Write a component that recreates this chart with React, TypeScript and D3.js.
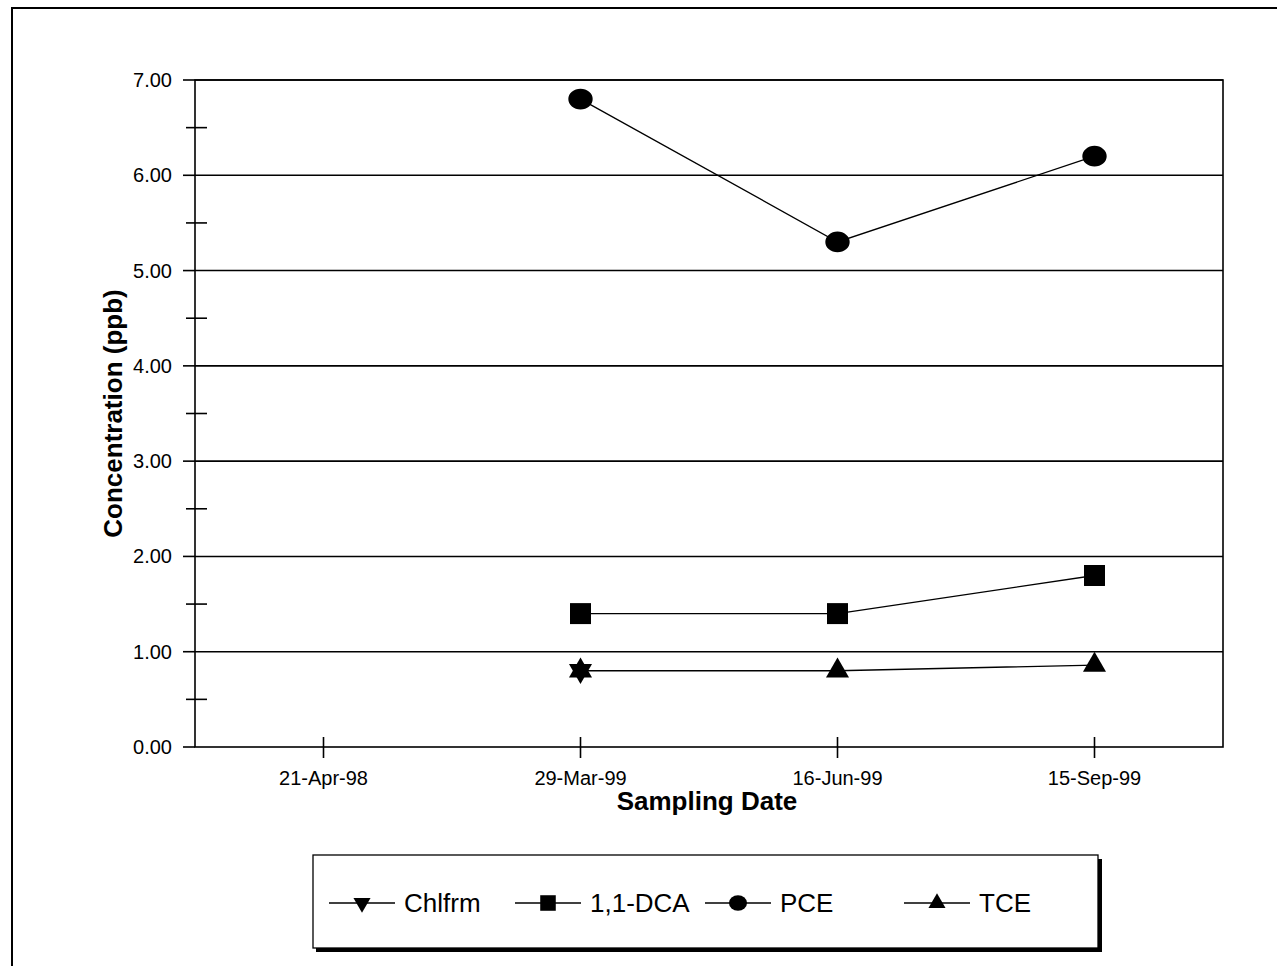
import * as d3 from 'd3'

const width = 1277
const height = 966
const margin = { top: 80, right: 54, bottom: 219, left: 195 }

const dates = ['21-Apr-98', '29-Mar-99', '16-Jun-99', '15-Sep-99']
const chlfrm = [null, 0.8, null, null]
const dca = [null, 1.4, 1.4, 1.8]
const pce = [null, 6.8, 5.3, 6.2]
const tce = [null, 0.8, 0.8, 0.86]
const yTicks = [0, 1, 2, 3, 4, 5, 6, 7]
const yMinorTicks = [0.5, 1.5, 2.5, 3.5, 4.5, 5.5, 6.5]

const seriesNames = ['Chlfrm', '1,1-DCA', 'PCE', 'TCE']
const seriesValues = [chlfrm, dca, pce, tce]
const seriesSymbols = ['triangleDown', 'square', 'circle', 'triangle']

const font = "'Liberation Sans', Arial, Helvetica, sans-serif"

const innerWidth = width - margin.left - margin.right
const innerHeight = height - margin.top - margin.bottom

const xScale = d3.scaleBand().domain(dates).range([0, innerWidth])
const yScale = d3.scaleLinear().domain([0, 7]).range([innerHeight, 0])

const marker = (kind: string, scale: number) => {
  if (kind === 'square') return d3.symbol(d3.symbolSquare, 440 * scale)()
  if (kind === 'circle') return d3.symbol(d3.symbolCircle, 400 * scale)()
  return d3.symbol(d3.symbolTriangle, 230 * scale)()
}

const Marker = ({ kind, x, y, scale = 1 }: { kind: string; x: number; y: number; scale?: number }) => (
  <path
    d={marker(kind, scale) as string}
    transform={`translate(${x},${y})${kind === 'triangleDown' ? ' rotate(180)' : ''}${kind === 'circle' ? ' scale(1.08,0.92)' : ''}`}
    fill="#000"
  />
)

const App = () => {
  const cx = (d: string) => (xScale(d) as number) + xScale.bandwidth() / 2

  const line = d3
    .line<[string, number | null]>()
    .defined((d) => d[1] !== null)
    .x((d) => cx(d[0]))
    .y((d) => yScale(d[1] as number))

  const legendX = [362, 548, 738, 937]
  const legendY = 903

  return (
    <svg
      width={width}
      height={height}
      style={{ position: 'absolute', left: 0, top: 0, background: '#fff' }}
      fontFamily={font}
    >
      {/* outer frame */}
      <path d={`M12,${height} V8 H${width}`} fill="none" stroke="#000" strokeWidth={2} />

      <g transform={`translate(${margin.left},${margin.top})`}>
        {/* gridlines */}
        {yTicks.slice(1).map((t) => (
          <line key={t} x1={0} x2={innerWidth} y1={yScale(t)} y2={yScale(t)} stroke="#000" strokeWidth={1.6} />
        ))}
        {/* plot box */}
        <rect x={0} y={0} width={innerWidth} height={innerHeight} fill="none" stroke="#000" strokeWidth={1.6} />

        {/* y axis */}
        {yTicks.map((t) => (
          <g key={t} transform={`translate(0,${yScale(t)})`}>
            <line x1={-12} x2={0} stroke="#000" strokeWidth={1.6} />
            <text x={-23} dy="0.35em" textAnchor="end" fontSize={20} fill="#000">
              {d3.format('.2f')(t)}
            </text>
          </g>
        ))}
        {yMinorTicks.map((t) => (
          <line key={t} x1={-9} x2={12} y1={yScale(t)} y2={yScale(t)} stroke="#000" strokeWidth={1.6} />
        ))}

        {/* x axis */}
        {dates.map((d) => (
          <g key={d} transform={`translate(${cx(d)},${innerHeight})`}>
            <line y1={-10} y2={11} stroke="#000" strokeWidth={1.6} />
            <text y={38} textAnchor="middle" fontSize={20} fill="#000">
              {d}
            </text>
          </g>
        ))}

        {/* series */}
        {seriesValues.map((vals, i) => {
          const pts = dates.map((d, j) => [d, vals[j]] as [string, number | null])
          return (
            <g key={seriesNames[i]}>
              <path d={line(pts) as string} fill="none" stroke="#000" strokeWidth={1.3} />
              {pts
                .filter((p) => p[1] !== null)
                .map((p) => (
                  <Marker key={p[0]} kind={seriesSymbols[i]} x={cx(p[0])} y={yScale(p[1] as number)} />
                ))}
            </g>
          )
        })}
      </g>

      {/* axis titles */}
      <text
        transform={`translate(122,${margin.top + innerHeight / 2}) rotate(-90)`}
        textAnchor="middle"
        fontSize={26}
        fontWeight="bold"
        fill="#000"
      >
        Concentration (ppb)
      </text>
      <text x={707} y={810} textAnchor="middle" fontSize={26} fontWeight="bold" fill="#000">
        Sampling Date
      </text>

      {/* legend */}
      <rect x={316} y={859} width={786} height={93} fill="#000" />
      <rect x={313} y={855} width={785} height={93} fill="#fff" stroke="#000" strokeWidth={1.3} />
      {seriesNames.map((name, i) => (
        <g key={name}>
          <line x1={legendX[i] - 33} x2={legendX[i] + 33} y1={legendY} y2={legendY} stroke="#000" strokeWidth={1.5} />
          <Marker kind={seriesSymbols[i]} x={legendX[i]} y={legendY} scale={0.55} />
          <text x={legendX[i] + 42} y={legendY} dy="0.35em" fontSize={26} fill="#000">
            {name}
          </text>
        </g>
      ))}
    </svg>
  )
}

export default App
